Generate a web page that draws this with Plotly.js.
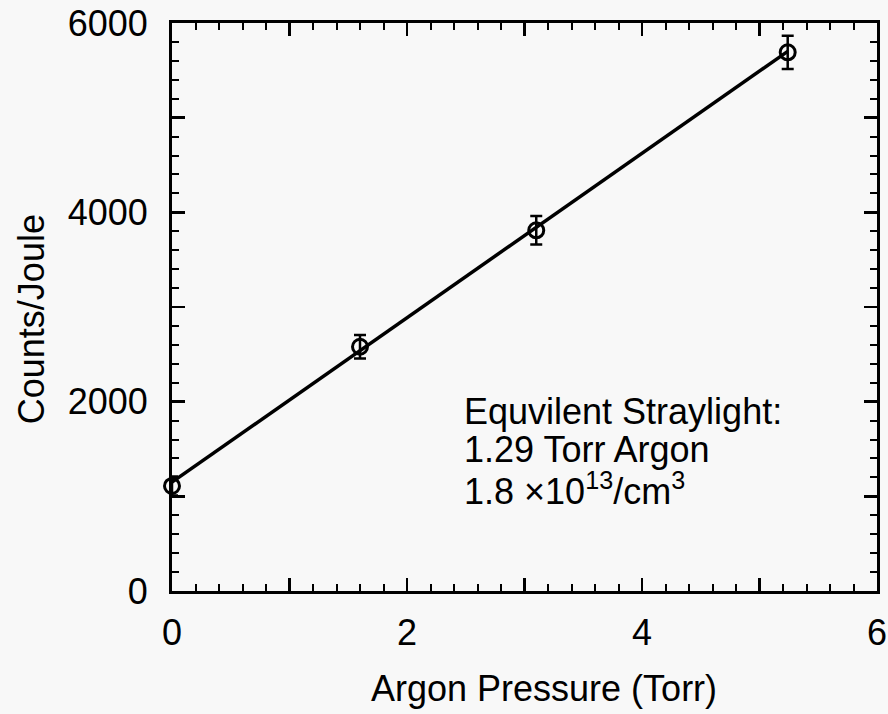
<!DOCTYPE html>
<html>
<head>
<meta charset="utf-8">
<script src="https://cdn.plot.ly/plotly-3.0.1.min.js"></script>
<style>
  html, body { margin: 0; padding: 0; background: #f8f8f8; }
  #chart { width: 888px; height: 714px; }
</style>
</head>
<body>
<div id="chart"></div>
<script>
const pressure = [0, 1.6, 3.1, 5.24];          // Torr
const counts   = [1110, 2580, 3810, 5690];     // Counts/Joule
const countErr = [100, 125, 150, 175];

// Linear fit endpoints
const fitX = [0, 5.24];
const fitY = [1150, 5700];

const xTickVals = [0, 1, 2, 3, 4, 5, 6];
const xTickText = ['0', '', '2', '', '4', '', '6'];
const yTickVals = [0, 1000, 2000, 3000, 4000, 5000, 6000];
const yTickText = ['0', '', '2000', '', '4000', '', '6000'];

const noteLines = [
  'Equvilent Straylight:',
  '1.29 Torr Argon',
  '1.8 \u00d710<sup>13</sup>/cm<sup>3</sup>'
];

const FONT = 'Liberation Sans, Arial, Helvetica, sans-serif';

const traces = [
  {
    x: fitX, y: fitY, mode: 'lines', type: 'scatter',
    line: { color: '#000', width: 3.5 }, hoverinfo: 'skip', showlegend: false, cliponaxis: false
  },
  {
    x: pressure, y: counts, mode: 'markers', type: 'scatter', cliponaxis: false,
    marker: { symbol: 'circle-open', size: 15, color: '#000', line: { width: 3, color: '#000' } },
    error_y: { type: 'data', array: countErr, visible: true, color: '#000', thickness: 2.5, width: 6 },
    showlegend: false
  }
];

const axisCommon = {
  showgrid: false, zeroline: false, showline: true, linecolor: '#000', linewidth: 3,
  mirror: 'ticks', ticks: 'inside', ticklen: 13, tickwidth: 2.5, tickcolor: '#000',
  tickfont: { family: FONT, size: 36, color: '#000' }, tickmode: 'array'
};

const layout = {
  width: 888, height: 714,
  margin: { l: 172, r: 11, t: 23, b: 123 },
  paper_bgcolor: '#f8f8f8', plot_bgcolor: '#f8f8f8',
  font: { family: FONT, color: '#000' },
  showlegend: false,
  xaxis: Object.assign({}, axisCommon, {
    range: [0, 6], tickvals: xTickVals, ticktext: xTickText, ticklabelstandoff: 8,
    minor: { tickmode: 'linear', tick0: 0, dtick: 0.2, ticks: 'inside', ticklen: 7, tickwidth: 2, tickcolor: '#000' }
  }),
  yaxis: Object.assign({}, axisCommon, {
    range: [0, 6000], tickvals: yTickVals, ticktext: yTickText, ticklabelstandoff: 14,
    minor: { tickmode: 'linear', tick0: 0, dtick: 200, ticks: 'inside', ticklen: 7, tickwidth: 2, tickcolor: '#000' }
  }),
  annotations: [
    { text: 'Argon Pressure (Torr)', xref: 'paper', yref: 'paper', x: 0.527, y: -0.1725,
      xanchor: 'center', yanchor: 'middle', showarrow: false, font: { family: FONT, size: 36 } },
    { text: 'Counts/Joule', xref: 'paper', yref: 'paper', x: -0.199, y: 0.478, textangle: -90,
      xanchor: 'center', yanchor: 'middle', showarrow: false, font: { family: FONT, size: 36 } },
    { text: noteLines[0], xref: 'x', yref: 'y', x: 2.47, y: 1900, xanchor: 'left', yanchor: 'middle',
      showarrow: false, font: { family: FONT, size: 36 } },
    { text: noteLines[1], xref: 'x', yref: 'y', x: 2.47, y: 1495, xanchor: 'left', yanchor: 'middle',
      showarrow: false, font: { family: FONT, size: 36 } },
    { text: noteLines[2], xref: 'x', yref: 'y', x: 2.47, y: 1080, xanchor: 'left', yanchor: 'middle',
      showarrow: false, font: { family: FONT, size: 36 } }
  ]
};

Plotly.newPlot('chart', traces, layout, { displayModeBar: false, staticPlot: true });
</script>
</body>
</html>
